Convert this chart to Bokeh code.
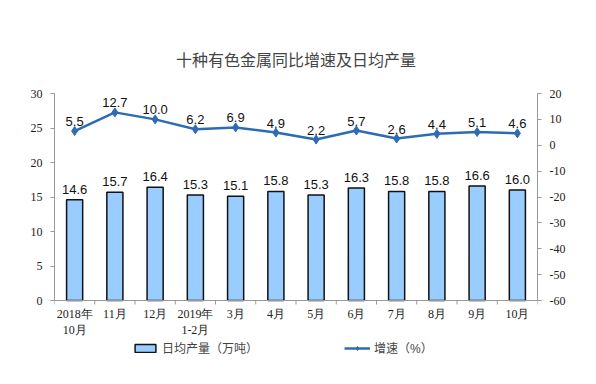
import math
from bokeh.plotting import figure
from bokeh.models import (Range1d, LinearAxis, FixedTicker, ColumnDataSource, Legend, LegendItem,
                          Title, Span)
from bokeh.core.properties import value
from bokeh.embed import file_html
from bokeh.resources import INLINE

months = ["2018年\n10月", "11月", "12月", "2019年\n1-2月", "3月", "4月", "5月", "6月", "7月", "8月", "9月", "10月"]
output = [14.6, 15.7, 16.4, 15.3, 15.1, 15.8, 15.3, 16.3, 15.8, 15.8, 16.6, 16.0]
growth = [5.5, 12.7, 10.0, 6.2, 6.9, 4.9, 2.2, 5.7, 2.6, 4.4, 5.1, 4.6]
left_ticks = [0, 5, 10, 15, 20, 25, 30]
right_ticks = [-60, -50, -40, -30, -20, -10, 0, 10, 20]

n = len(months)
xs = [i + 0.5 for i in range(n)]
bounds = list(range(n + 1))

# layout geometry (pixels)
top_b, plot_h, below_h = 93, 207, 68
left_lo, left_hi = 0, 30
right_lo, right_hi = -60, 20
left_ext = below_h * (left_hi - left_lo) / plot_h
right_ext = below_h * (right_hi - right_lo) / plot_h

src = ColumnDataSource(dict(x=xs, out=output, gr=growth, month=months,
                            out_lbl=[f"{v:.1f}" for v in output],
                            gr_lbl=[f"{v:.1f}" for v in growth]))
bsrc = ColumnDataSource(dict(x=bounds, y=[0] * len(bounds)))

p = figure(width=580, height=top_b + plot_h + below_h, output_backend="svg", toolbar_location=None,
           x_range=Range1d(0, n), y_range=Range1d(left_lo - left_ext, left_hi),
           x_axis_location=None,
           min_border_left=54, min_border_right=43, min_border_top=top_b, min_border_bottom=0)
p.extra_y_ranges = {"g": Range1d(right_lo - right_ext, right_hi)}
p.grid.visible = False
p.outline_line_color = None

serif = "Liberation Serif, Noto Sans CJK SC"
sans = "Liberation Sans, Noto Sans CJK SC"
axis_c = "#999999"

# y axes
ya = p.yaxis[0]
ya.ticker = FixedTicker(ticks=left_ticks)
ya.bounds = (left_lo, left_hi)
ya.minor_tick_line_color = None
ya.major_tick_in = 0
ya.major_tick_out = 4
ya.major_tick_line_color = axis_c
ya.axis_line_color = axis_c
ya.major_label_text_font = serif
ya.major_label_text_font_size = "12px"
ya.major_label_standoff = 8
ya.major_label_text_color = "#222222"

ra = LinearAxis(y_range_name="g", ticker=FixedTicker(ticks=right_ticks), bounds=(right_lo, right_hi))
ra.major_label_overrides = {t: str(t) for t in right_ticks}
ra.minor_tick_line_color = None
ra.major_tick_in = 0
ra.major_tick_out = 4
ra.major_tick_line_color = axis_c
ra.axis_line_color = axis_c
ra.major_label_text_font = serif
ra.major_label_text_font_size = "12px"
ra.major_label_standoff = 8
ra.major_label_text_color = "#222222"
p.add_layout(ra, "right")

# category axis (line at zero, ticks at category boundaries, labels under each category)
p.add_layout(Span(location=0, dimension="width", line_color=axis_c, line_width=1))
p.ray(x="x", y="y", source=bsrc, length=4, length_units="screen", angle=-math.pi / 2,
      line_color=axis_c, line_width=1)
p.text(x="x", y=0, text="month", source=src, text_align="center", text_baseline="top",
       y_offset=6, text_font=value("Liberation Serif"), text_font_size="12px",
       text_color="#222222", text_line_height=1.2)

# bars
bars = p.vbar(x="x", top="out", bottom=0, width=0.4, source=src, fill_color="#99CCFF",
              line_color="#111111", line_width=1.5)
p.text(x="x", y="out", text="out_lbl", source=src, text_align="center", text_baseline="bottom",
       y_offset=-6, text_font=value("Liberation Sans"), text_font_size="13px", text_color="#111111")

# line
lc = "#2E6BB5"
ln = p.line(x="x", y="gr", source=src, y_range_name="g", line_color=lc, line_width=2.5)
mk = p.scatter(x="x", y="gr", source=src, y_range_name="g", marker="diamond", size=9,
               fill_color=lc, line_color=lc)
p.text(x="x", y="gr", text="gr_lbl", source=src, y_range_name="g", text_align="center",
       text_baseline="bottom", y_offset=-5, text_font=value("Liberation Sans"),
       text_font_size="13px", text_color="#111111")

legend = Legend(items=[LegendItem(label="日均产量（万吨）", renderers=[bars]),
                       LegendItem(label="增速（%）", renderers=[ln, mk])],
                orientation="horizontal", location=(78, 12), spacing=86, margin=0, padding=4,
                label_text_font=sans, label_text_font_size="12px", label_width=82,
                glyph_width=26, glyph_height=10, label_standoff=4,
                background_fill_alpha=0, border_line_color=None)
p.add_layout(legend, "center")

p.add_layout(Title(text="十种有色金属同比增速及日均产量", align="center",
                   text_font=sans, text_font_size="16px", text_font_style="normal",
                   standoff=50), "above")

open("out.html", "w").write(file_html(p, INLINE))
